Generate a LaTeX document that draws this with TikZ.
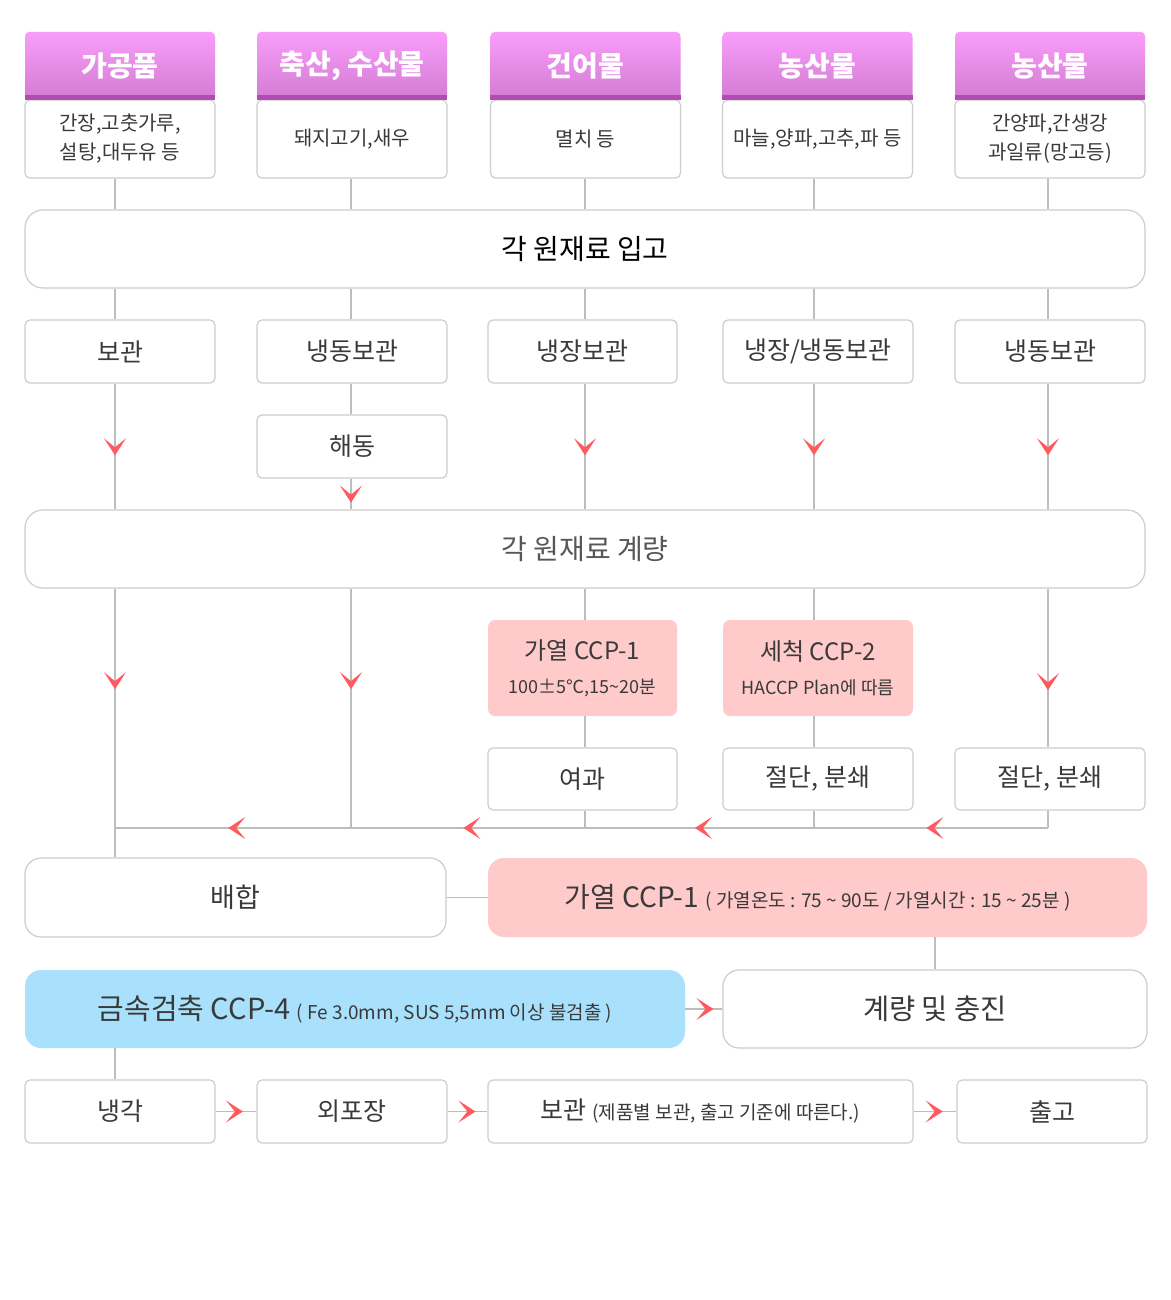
\documentclass[tikz,border=0pt]{standalone}
\usepackage{fontspec}
\setmainfont{Noto Sans CJK KR}
\usetikzlibrary{arrows.meta}
\usetikzlibrary{decorations.markings}

\definecolor{txt}{HTML}{3A3A3A}
\definecolor{edge}{HTML}{CDCDCD}
\definecolor{wire}{HTML}{BDBDBD}
\definecolor{ccp}{HTML}{FFCACA}
\definecolor{metal}{HTML}{A9E1FC}
\definecolor{tipred}{HTML}{FF5A5F}
\definecolor{headtop}{HTML}{F99DFB}
\definecolor{headbot}{HTML}{D27BD2}
\definecolor{stripe}{HTML}{B14CB4}

\newcommand{\fsz}[2]{\fontsize{#1}{#2}\selectfont}

\tikzset{
  box/.style={draw=edge, line width=1.2pt, fill=white, rounded corners=5pt, text=txt, align=center},
  bigbox/.style={box, rounded corners=18pt},
  ccpbox/.style={fill=ccp, rounded corners=7pt, text=txt, align=center},
  head/.style={top color=headtop, bottom color=headbot, rounded corners=4pt, text=white, font=\fsz{28}{32}\bfseries},
  wire/.style={draw=wire, line width=1.5pt},
  redtip/.tip={Stealth[length=17pt, width=22pt, inset=9pt, color=tipred]},
  midtip/.style={postaction={decorate, decoration={markings, mark=at position #1 with {\arrow{redtip}}}}},
  midtip/.default=0.5
}

\begin{document}
\begin{tikzpicture}[x=1pt, y=-1pt]
\useasboundingbox[fill=white] (0,0) rectangle (1170,1300);
% raw material headers
\node[box, minimum width=190pt, minimum height=78pt, font=\fsz{20}{29}] (s1) at (120,139) {간장,고춧가루,\\설탕,대두유 등};
\node[box, minimum width=190pt, minimum height=78pt, font=\fsz{20}{29}] (s2) at (352,139) {돼지고기,새우};
\node[box, minimum width=190pt, minimum height=78pt, font=\fsz{20}{29}] (s3) at (585.5,139) {멸치 등};
\node[box, minimum width=190pt, minimum height=78pt, font=\fsz{20}{29}] (s4) at (817.5,139) {마늘,양파,고추,파 등};
\node[box, minimum width=190pt, minimum height=78pt, font=\fsz{20}{29}] (s5) at (1050,139) {간양파,간생강\\과일류(망고등)};
\node[head, minimum width=190pt, minimum height=68pt] (h1) at (120,66) {가공품};
\node[head, minimum width=190pt, minimum height=68pt] (h2) at (352,66) {축산, 수산물};
\node[head, minimum width=190pt, minimum height=68pt] (h3) at (585.5,66) {건어물};
\node[head, minimum width=190pt, minimum height=68pt] (h4) at (817.5,66) {농산물};
\node[head, minimum width=190pt, minimum height=68pt] (h5) at (1050,66) {농산물};
\fill[stripe] (h1.south west) rectangle ([yshift=5pt]h1.south east);
\fill[stripe] (h2.south west) rectangle ([yshift=5pt]h2.south east);
\fill[stripe] (h3.south west) rectangle ([yshift=5pt]h3.south east);
\fill[stripe] (h4.south west) rectangle ([yshift=5pt]h4.south east);
\fill[stripe] (h5.south west) rectangle ([yshift=5pt]h5.south east);
% receiving and storage
\node[bigbox, minimum width=1120pt, minimum height=78pt, text=black, font=\fsz{28}{32}] (in) at (585,249) {각 원재료 입고};
\node[box, minimum width=190pt, minimum height=63pt, font=\fsz{25}{30}] (b1) at (120,351.5) {보관};
\node[box, minimum width=190pt, minimum height=63pt, font=\fsz{25}{30}] (b2) at (352,351.5) {냉동보관};
\node[box, minimum width=189pt, minimum height=63pt, font=\fsz{25}{30}] (b3) at (582.5,351.5) {냉장보관};
\node[box, minimum width=190pt, minimum height=63pt, font=\fsz{25}{30}] (b4) at (818,351.5) {냉장/냉동보관};
\node[box, minimum width=190pt, minimum height=63pt, font=\fsz{25}{30}] (b5) at (1050,351.5) {냉동보관};
\node[box, minimum width=190pt, minimum height=63pt, font=\fsz{25}{30}] (th) at (352,446.5) {해동};
\node[bigbox, minimum width=1120pt, minimum height=78pt, text=txt!85, font=\fsz{28}{32}] (wg) at (585,549) {각 원재료 계량};
% pre-treatment
\node[ccpbox, minimum width=189pt, minimum height=96pt, font=\fsz{24}{34}] (c1) at (582.5,668) {가열 CCP-1\\{\fsz{18}{22}100±5℃,15\char`\~20분}};
\node[ccpbox, minimum width=190pt, minimum height=96pt, font=\fsz{24}{34}] (c2) at (818,668) {세척 CCP-2\\{\fsz{18}{22}HACCP Plan에 따름}};
\node[box, minimum width=189pt, minimum height=62pt, font=\fsz{25}{30}] (f1) at (582.5,779) {여과};
\node[box, minimum width=190pt, minimum height=62pt, font=\fsz{25}{30}] (f2) at (818,779) {절단, 분쇄};
\node[box, minimum width=190pt, minimum height=62pt, font=\fsz{25}{30}] (f3) at (1050,779) {절단, 분쇄};
\coordinate (j1) at (115,828);
\coordinate (j2) at (351,828);
\coordinate (j3) at (585,828);
\coordinate (j4) at (814,828);
\coordinate (j5) at (1048,828);
% mixing, heating, filling
\node[bigbox, rounded corners=16pt, minimum width=421pt, minimum height=79pt, font=\fsz{27}{32}] (mx) at (235.5,897.5) {배합};
\node[ccpbox, rounded corners=16pt, minimum width=659pt, minimum height=79pt, font=\fsz{28}{32}] (ht) at (817.5,897.5) {가열 CCP-1 {\fsz{19}{22}( 가열온도 : 75 \char`\~{} 90도 / 가열시간 : 15 \char`\~{} 25분 )}};
\node[ccpbox, fill=metal, rounded corners=16pt, minimum width=660pt, minimum height=78pt, font=\fsz{29}{32}] (md) at (355,1009) {금속검축 CCP-4 {\fsz{19}{22}( Fe 3.0mm, SUS 5,5mm 이상 불검출 )}};
\node[bigbox, rounded corners=16pt, minimum width=424pt, minimum height=78pt, font=\fsz{28.5}{32}] (fl) at (935,1009) {계량 및 충진};
% packing and shipping
\node[box, minimum width=190pt, minimum height=63pt, font=\fsz{25}{30}] (cl) at (120,1111.5) {냉각};
\node[box, minimum width=190pt, minimum height=63pt, font=\fsz{25}{30}] (pk) at (352,1111.5) {외포장};
\node[box, minimum width=425pt, minimum height=63pt, font=\fsz{25}{30}] (st) at (700.5,1111.5) {보관 {\fsz{19}{22}(제품별 보관, 출고 기준에 따른다.)}};
\node[box, minimum width=190pt, minimum height=63pt, font=\fsz{25}{30}] (ot) at (1052,1111.5) {출고};
% connectors
\draw[wire] (j1 |- s1.south) -- (j1 |- in.north);
\draw[wire] (j2 |- s2.south) -- (j2 |- in.north);
\draw[wire] (j3 |- s3.south) -- (j3 |- in.north);
\draw[wire] (j4 |- s4.south) -- (j4 |- in.north);
\draw[wire] (j5 |- s5.south) -- (j5 |- in.north);
\draw[wire] (j1 |- in.south) -- (j1 |- b1.north);
\draw[wire] (j2 |- in.south) -- (j2 |- b2.north);
\draw[wire] (j3 |- in.south) -- (j3 |- b3.north);
\draw[wire] (j4 |- in.south) -- (j4 |- b4.north);
\draw[wire] (j5 |- in.south) -- (j5 |- b5.north);
\draw[wire, midtip=0.57] (j1 |- b1.south) -- (j1 |- wg.north);
\draw[wire] (j2 |- b2.south) -- (j2 |- th.north);
\draw[wire, midtip=0.78] (j2 |- th.south) -- (j2 |- wg.north);
\draw[wire, midtip=0.57] (j3 |- b3.south) -- (j3 |- wg.north);
\draw[wire, midtip=0.57] (j4 |- b4.south) -- (j4 |- wg.north);
\draw[wire, midtip=0.57] (j5 |- b5.south) -- (j5 |- wg.north);
\draw[wire, midtip=0.42] (j1 |- wg.south) -- (j1);
\draw[wire] (j1) -- (j1 |- mx.north);
\draw[wire, midtip=0.42] (j2 |- wg.south) -- (j2);
\draw[wire] (j3 |- wg.south) -- (j3 |- c1.north);
\draw[wire] (j3 |- c1.south) -- (j3 |- f1.north);
\draw[wire] (j3 |- f1.south) -- (j3);
\draw[wire] (j4 |- wg.south) -- (j4 |- c2.north);
\draw[wire] (j4 |- c2.south) -- (j4 |- f2.north);
\draw[wire] (j4 |- f2.south) -- (j4);
\draw[wire, midtip=0.64] (j5 |- wg.south) -- (j5 |- f3.north);
\draw[wire] (j5 |- f3.south) -- (j5);
\draw[wire, midtip=0.52] (j5) -- (j4);
\draw[wire, midtip=0.52] (j4) -- (j3);
\draw[wire, midtip=0.52] (j3) -- (j2);
\draw[wire, midtip=0.52] (j2) -- (j1);
\draw[wire] (mx.east) -- (ht.west);
\draw[wire] (fl.north |- ht.south) -- (fl.north);
\draw[wire, midtip=0.76] (md.east) -- (fl.west);
\draw[wire] (j1 |- md.south) -- (j1 |- cl.north);
\draw[wire, midtip=0.67] (cl.east) -- (pk.west);
\draw[wire, midtip=0.7] (pk.east) -- (st.west);
\draw[wire, midtip=0.68] (st.east) -- (ot.west);
\end{tikzpicture}
\end{document}
